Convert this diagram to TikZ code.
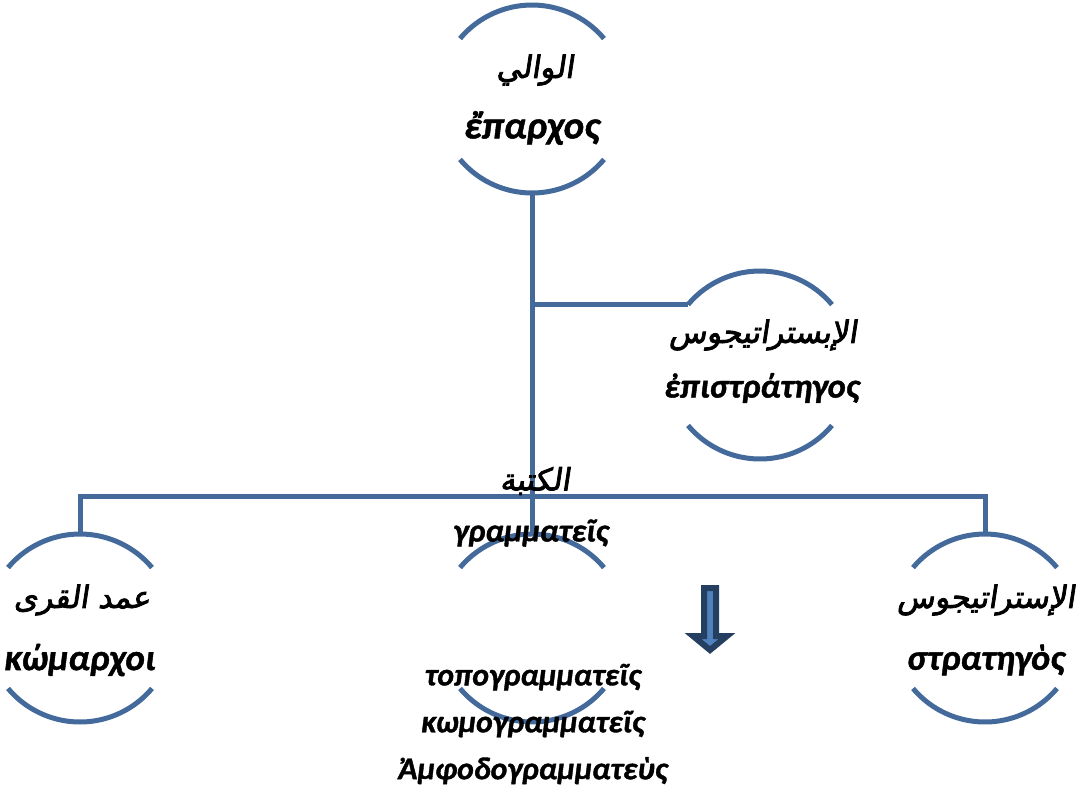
\documentclass[tikz,border=0pt]{standalone}
\usepackage{fontspec}
\setmainfont{Carlito}[BoldItalicFeatures={FakeBold=1.2}]
\newfontfamily\arabicfont[Script=Arabic,FakeBold=2.5,FakeSlant=0.15]{DejaVu Sans}
\TeXXeTstate=1
\usepackage{xcolor}
\usepackage{tikz}
\usetikzlibrary{positioning,calc}

\definecolor{ringblue}{RGB}{68,106,156}
\definecolor{arrowfill}{RGB}{79,129,189}
\definecolor{arrowedge}{RGB}{36,63,96}

\begin{document}
\begin{tikzpicture}[x=0.02cm, y=-0.02cm,
    ring/.style={circle, minimum size=3.76cm, inner sep=0pt, outer sep=0pt},
    link/.style={draw=ringblue, line width=0.1cm},
    greek/.style={font=\fontsize{#1}{26.7}\selectfont\bfseries\itshape},
    greek/.default=21,
    arab/.style={font=\fontsize{17.5}{20}\selectfont\arabicfont}
]
    \useasboundingbox (0,0) rectangle (1078,796);

    % the five rings
    \node[ring] (wali) at (532,99) {};
    \node[ring] (epi) at (760,365) {};
    \node[ring] (katib) at (532,628) {};
    \node[ring] (komarch) at (80,628) {};
    \node[ring] (strat) at (985,628) {};

    \foreach \n in {wali,epi,katib,komarch,strat} {
        \draw[link] (\n.140) arc[start angle=140, end angle=40, radius=1.88cm];
        \draw[link] (\n.-140) arc[start angle=-140, end angle=-40, radius=1.88cm];
    }

    % connectors
    \coordinate (bar) at (532,496);
    \draw[link] (wali.south) -- (katib.north);
    \draw[link] (wali.south |- epi.140) -- (epi.140);
    \draw[link] (komarch.north) |- (bar) -- (strat.north |- bar) -- (strat.north);

    % labels
    \node[arab] (waliAr) at (535,70) {\beginR الوالي\endR};
    \node[greek=22] (waliGr) at (532,128) {ἔπαρχος};

    \node[arab] (epiAr) at (763,335) {\beginR الإبستراتيجوس\endR};
    \node[greek=19.5] (epiGr) at (762,388) {ἐπιστράτηγος};

    \node[arab] (katibAr) at (535,481) {\beginR الكتبة\endR};
    \node[greek=18.4] (katibGr) at (531,533) {γραμματεῖς};
    \node[greek=18, align=center] (katibSub) at (533,724)
        {τοπογραμματεῖς\\κωμογραμματεῖς\\Ἀμφοδογραμματεὺς};

    \node[arab] (komarchAr) at (82,600) {\beginR عمد القرى\endR};
    \node[greek=21] (komarchGr) at (80,660) {κώμαρχοι};

    \node[arab] (stratAr) at (986,600) {\beginR الإستراتيجوس\endR};
    \node[greek=20.5] (stratGr) at (986,660) {στρατηγὸς};

    % block arrow
    \draw[draw=arrowedge, fill=arrowfill, line width=0.12cm, line join=miter]
        (704,588) -- (716,588) -- (716,636) -- (727,636) -- (710,650)
        -- (693,636) -- (704,636) -- cycle;
\end{tikzpicture}
\end{document}
